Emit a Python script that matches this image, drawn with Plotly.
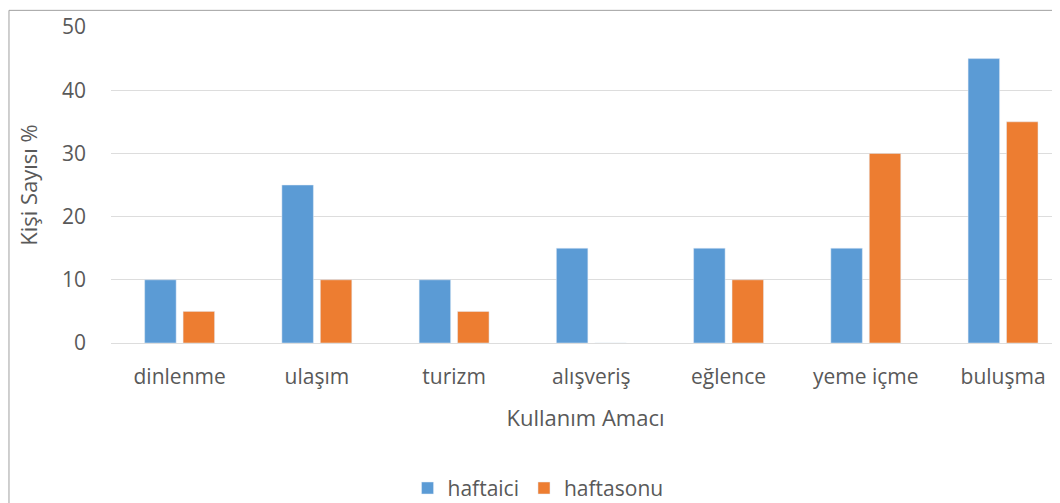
import plotly.graph_objects as go

categories = ["dinlenme", "ulaşım", "turizm", "alışveriş", "eğlence", "yeme içme", "buluşma"]
haftaici = [10, 25, 10, 15, 15, 15, 45]
haftasonu = [5, 10, 5, 0, 10, 30, 35]

TXT = "#595959"
FONT = "Open Sans, DejaVu Sans, sans-serif"

fig = go.Figure()
fig.add_trace(go.Bar(x=categories, y=haftaici, name="haftaici", marker_color="#5B9BD5"))
fig.add_trace(go.Bar(x=categories, y=haftasonu, name="haftasonu", marker_color="#ED7D31"))

# page body has an 8px margin, so the figure is 8px smaller than the window
fig.update_layout(
    width=1052, height=495,
    margin=dict(l=103, r=0, t=19, b=160, autoexpand=False),
    paper_bgcolor="white", plot_bgcolor="white",
    font=dict(family=FONT, size=21, color=TXT),
    barmode="group", bargap=0.44, bargroupgap=0.18,
    showlegend=True,
    legend=dict(orientation="h", x=0.45, xanchor="center", y=-0.46, yanchor="middle",
                font=dict(size=21, color=TXT), itemwidth=30, traceorder="normal"),
    xaxis=dict(
        range=[-0.5, 6.415], showgrid=False, showline=False, ticks="",
        ticklabelstandoff=19,
        title=dict(text="Kullanım Amacı", standoff=21, font=dict(size=22, color=TXT)),
    ),
    yaxis=dict(
        range=[0, 50], dtick=10, gridcolor="#DDDDDD", gridwidth=1,
        zeroline=True, zerolinecolor="#DDDDDD", zerolinewidth=1,
        showline=False, ticks="", ticklabelstandoff=24,
        title=dict(text="Kişi Sayısı %", standoff=18, font=dict(size=22, color=TXT)),
    ),
    shapes=[dict(type="rect", xref="paper", yref="paper",
                 x0=-0.1075, x1=1.05, y0=-0.7, y1=1.0527,
                 line=dict(color="#A0A0A0", width=1), fillcolor="rgba(0,0,0,0)", layer="below")],
)

fig.write_html("out.html")
